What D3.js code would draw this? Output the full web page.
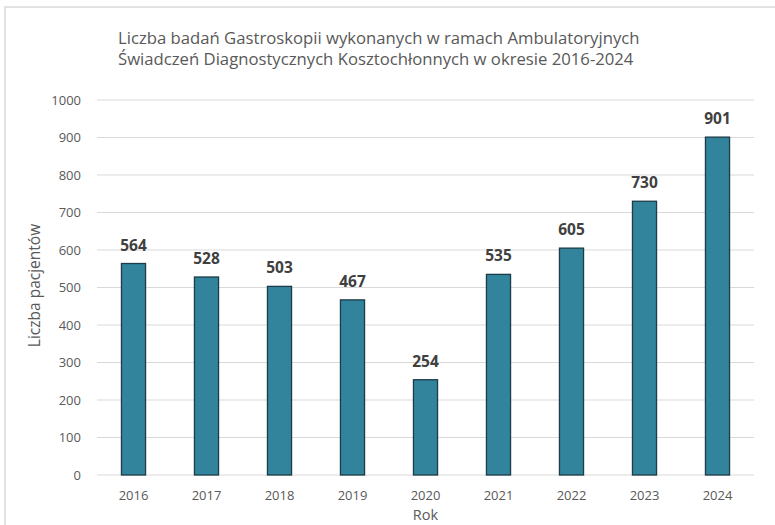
<!DOCTYPE html>
<html>
<head>
<meta charset="utf-8">
<script src="https://cdn.jsdelivr.net/npm/d3@7"></script>
<style>
  body { margin: 0; background: #fff; }
  svg text { font-family: "Open Sans", "Liberation Sans", sans-serif; }
</style>
</head>
<body>
<svg id="chart" width="775" height="525"></svg>
<script>
const years = ['2016', '2017', '2018', '2019', '2020', '2021', '2022', '2023', '2024'];
const patients = [564, 528, 503, 467, 254, 535, 605, 730, 901];
const yTicks = [0, 100, 200, 300, 400, 500, 600, 700, 800, 900, 1000];
const titleLines = [
    'Liczba badań Gastroskopii wykonanych w ramach Ambulatoryjnych',
    'Świadczeń Diagnostycznych Kosztochłonnych w okresie 2016-2024'
];

const svg = d3.select('#chart');
const margin = { left: 97, right: 21, top: 100, bottom: 50 };
const width = +svg.attr('width');
const height = +svg.attr('height');

// outer frame, only left and top edges show in the picture
svg.append('rect')
    .attr('x', 5).attr('y', 7)
    .attr('width', 800).attr('height', 600)
    .attr('fill', 'none')
    .attr('stroke', '#d9d9d9')
    .attr('stroke-width', 1.5);

const x = d3.scaleBand()
    .domain(years)
    .range([margin.left, width - margin.right])
    .paddingInner(0.67)
    .paddingOuter(0.335);

const y = d3.scaleLinear()
    .domain([0, 1000])
    .range([height - margin.bottom, margin.top]);

// gridlines
svg.append('g')
    .selectAll('line')
    .data(yTicks)
    .join('line')
    .attr('x1', margin.left)
    .attr('x2', width - margin.right)
    .attr('y1', d => y(d))
    .attr('y2', d => y(d))
    .attr('stroke', '#d9d9d9')
    .attr('stroke-width', 1.2);

// y tick labels
svg.append('g')
    .selectAll('text')
    .data(yTicks)
    .join('text')
    .attr('x', 81)
    .attr('y', d => y(d))
    .attr('dy', '0.35em')
    .attr('text-anchor', 'end')
    .attr('font-size', 13)
    .attr('fill', '#595959')
    .text(d => d);

// x tick labels
svg.append('g')
    .selectAll('text')
    .data(years)
    .join('text')
    .attr('x', d => x(d) + x.bandwidth() / 2)
    .attr('y', y(0) + 25)
    .attr('text-anchor', 'middle')
    .attr('font-size', 13)
    .attr('fill', '#595959')
    .text(d => d);

// bars
svg.append('g')
    .selectAll('rect')
    .data(patients)
    .join('rect')
    .attr('x', (d, i) => x(years[i]))
    .attr('y', d => y(d))
    .attr('width', x.bandwidth())
    .attr('height', d => y(0) - y(d))
    .attr('fill', '#31849b')
    .attr('stroke', '#1d3c47')
    .attr('stroke-width', 1.3);

// value labels
svg.append('g')
    .selectAll('text')
    .data(patients)
    .join('text')
    .attr('x', (d, i) => x(years[i]) + x.bandwidth() / 2)
    .attr('y', d => y(d) - 13)
    .attr('text-anchor', 'middle')
    .attr('font-size', 15.5)
    .attr('font-weight', 'bold')
    .attr('fill', '#404040')
    .text(d => d);

// title
svg.append('g')
    .selectAll('text')
    .data(titleLines)
    .join('text')
    .attr('x', 118)
    .attr('y', (d, i) => 44 + i * 21)
    .attr('font-size', 16.7)
    .attr('fill', '#595959')
    .text(d => d);

// axis titles
svg.append('text')
    .attr('transform', `translate(40, ${(y(0) + y(1000)) / 2 - 2}) rotate(-90)`)
    .attr('text-anchor', 'middle')
    .attr('font-size', 15.5)
    .attr('fill', '#595959')
    .text('Liczba pacjentów');

svg.append('text')
    .attr('x', (margin.left + width - margin.right) / 2)
    .attr('y', 520)
    .attr('text-anchor', 'middle')
    .attr('font-size', 14.5)
    .attr('fill', '#595959')
    .text('Rok');
</script>
</body>
</html>
